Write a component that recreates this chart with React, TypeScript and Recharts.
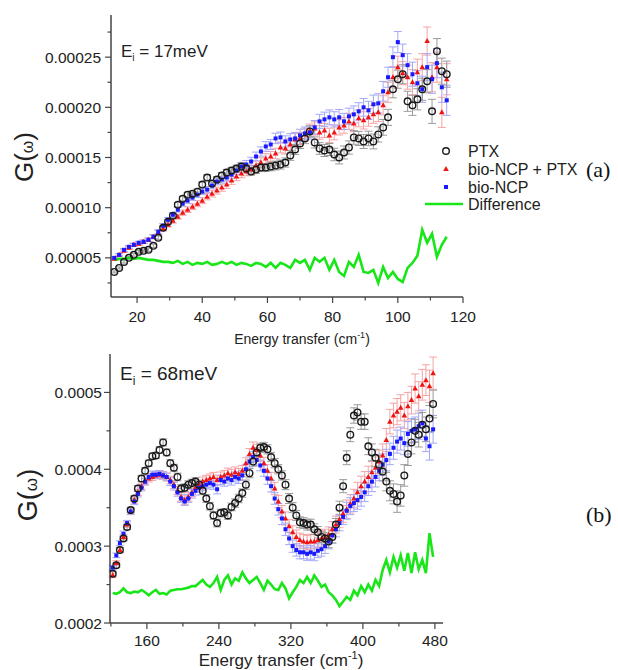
import { ComposedChart, Scatter, Line, XAxis, YAxis, ErrorBar } from "recharts";

// ---- panel (a), Ei = 17 meV, G(w) in units of 1e-5 ----
const energyA = [
  13, 14.5, 16, 17.5, 19, 20.5, 22, 23.5, 25, 26.5,
  28, 29.5, 31, 32.5, 34, 35.5, 37, 38.5, 40, 41.5,
  43, 44.5, 46, 47.5, 49, 50.5, 52, 53.5, 55, 56.5,
  58, 59.5, 61, 62.5, 64, 65.5, 67, 68.5, 70, 71.5,
  73, 74.5, 76, 77.5, 79, 80.5, 82, 83.5, 85, 86.5,
  88, 89.5, 91, 92.5, 94, 95.5, 97, 98.5, 100, 101.5,
  103, 104.5, 106, 107.5, 109, 110.5, 112, 113.5, 115,
];
const ptxA = [
  3.6, 4.0, 4.6, 5.0, 5.3, 5.6, 5.7, 5.8, 6.2, 7.0,
  8.0, 8.6, 9.2, 10.3, 10.9, 11.3, 11.4, 11.6, 12.3, 13.0,
  12.4, 12.8, 13.2, 13.5, 13.7, 13.9, 14.1, 13.9, 13.6, 13.8,
  14.0, 14.0, 14.1, 14.2, 14.3, 14.5, 15.2, 15.8, 16.4, 16.9,
  17.6, 16.5, 15.9, 15.7, 15.8, 15.3, 15.0, 15.5, 16.0, 17.0,
  16.9, 16.6, 16.9, 16.6, 17.3, 18.0, 19.0, 21.8, 22.8, 23.3,
  20.6, 20.2, 20.8, 21.8, 22.6, 19.6, 25.6, 23.6, 23.3,
];
const ptxErrA = [
  0.1, 0.1, 0.12, 0.12, 0.14, 0.14, 0.15, 0.15, 0.16, 0.18,
  0.18, 0.2, 0.2, 0.22, 0.22, 0.24, 0.24, 0.25, 0.26, 0.28,
  0.28, 0.3, 0.3, 0.32, 0.32, 0.34, 0.34, 0.36, 0.36, 0.38,
  0.4, 0.4, 0.42, 0.44, 0.45, 0.46, 0.48, 0.5, 0.5, 0.52,
  0.55, 0.55, 0.58, 0.6, 0.6, 0.62, 0.64, 0.65, 0.66, 0.68,
  0.7, 0.7, 0.72, 0.74, 0.76, 0.78, 0.8, 0.85, 0.9, 0.95,
  1.0, 1.0, 1.05, 1.1, 1.15, 1.2, 1.25, 1.3, 1.3,
];
const mixA = [
  4.9, 5.3, 5.7, 6.0, 6.3, 6.4, 6.6, 6.8, 7.1, 7.5,
  7.9, 8.3, 8.7, 9.1, 9.5, 9.8, 10.1, 10.4, 10.7, 11.1,
  11.4, 11.7, 12.0, 12.3, 12.7, 13.1, 13.4, 13.6, 13.8, 14.2,
  14.5, 14.9, 15.1, 15.4, 16.0, 15.9, 16.3, 16.8, 16.9, 17.3,
  17.7, 17.9, 17.5, 17.7, 17.2, 17.5, 18.0, 18.2, 18.6, 18.4,
  18.9, 18.7, 19.0, 19.3, 19.5, 20.2, 21.5, 23.0, 24.0, 23.4,
  23.0, 22.5, 23.5, 24.0, 26.6, 23.0, 24.0, 19.5, 22.8,
];
const mixErrA = [
  0.12, 0.12, 0.14, 0.14, 0.16, 0.16, 0.18, 0.18, 0.2, 0.2,
  0.22, 0.22, 0.24, 0.24, 0.26, 0.28, 0.28, 0.3, 0.3, 0.32,
  0.34, 0.34, 0.36, 0.38, 0.38, 0.4, 0.42, 0.42, 0.44, 0.46,
  0.48, 0.48, 0.5, 0.52, 0.54, 0.56, 0.58, 0.6, 0.6, 0.62,
  0.64, 0.66, 0.68, 0.7, 0.72, 0.74, 0.76, 0.78, 0.8, 0.82,
  0.84, 0.86, 0.88, 0.9, 0.92, 0.95, 1.0, 1.05, 1.1, 1.15,
  1.2, 1.25, 1.3, 1.35, 1.4, 1.45, 1.5, 1.5, 1.55,
];
const ncpA = [
  5.0, 5.3, 5.8, 6.1, 6.3, 6.5, 6.6, 6.8, 7.1, 7.6,
  8.2, 8.8, 9.3, 9.8, 10.4, 10.7, 11.0, 11.3, 11.6, 11.8,
  12.2, 12.6, 12.8, 13.0, 13.3, 13.7, 14.1, 14.3, 14.6, 15.1,
  15.6, 16.1, 16.3, 16.9, 17.0, 16.6, 16.8, 16.9, 17.2, 17.4,
  17.5, 18.0, 18.6, 18.8, 19.0, 18.8, 19.0, 18.6, 19.1, 19.3,
  19.6, 20.0, 19.7, 20.3, 20.4, 21.6, 23.0, 25.0, 26.5, 25.2,
  24.2, 23.3, 22.4, 21.8, 24.0, 22.8, 24.4, 22.0, 20.7,
];
const ncpErrA = [
  0.12, 0.12, 0.14, 0.14, 0.15, 0.16, 0.17, 0.18, 0.19, 0.2,
  0.21, 0.22, 0.23, 0.24, 0.25, 0.26, 0.27, 0.28, 0.3, 0.31,
  0.32, 0.33, 0.34, 0.35, 0.36, 0.38, 0.4, 0.41, 0.42, 0.44,
  0.46, 0.48, 0.5, 0.52, 0.54, 0.56, 0.58, 0.6, 0.62, 0.64,
  0.66, 0.68, 0.7, 0.72, 0.74, 0.76, 0.78, 0.8, 0.82, 0.84,
  0.86, 0.88, 0.9, 0.92, 0.95, 0.98, 1.0, 1.02, 1.05, 1.1,
  1.15, 1.2, 1.25, 1.3, 1.35, 1.4, 1.45, 1.5, 1.5,
];
const diffA = [
  4.8, 4.9, 4.9, 5.0, 4.9, 5.0, 4.9, 4.8, 4.8, 4.7,
  4.6, 4.6, 4.5, 4.7, 4.4, 4.6, 4.3, 4.5, 4.4, 4.6,
  4.3, 4.4, 4.6, 4.4, 4.6, 4.3, 4.5, 4.4, 4.2, 4.5,
  4.4, 4.1, 4.5, 4.0, 4.5, 4.3, 4.0, 4.8, 4.5, 4.8,
  3.8, 5.0, 4.6, 5.0, 3.8, 4.8, 3.6, 3.2, 4.6, 4.1,
  5.3, 3.6, 3.5, 3.8, 2.5, 4.1, 3.0, 3.6, 2.9, 2.6,
  4.0, 4.5, 5.2, 7.8, 6.5, 7.4, 5.1, 6.3, 7.1,
];

// ---- panel (b), Ei = 68 meV, G(w) in units of 1e-4 ----
const energyB = [
  122, 126, 130, 134, 138, 142, 146, 150, 154, 158,
  162, 166, 170, 174, 178, 182, 186, 190, 194, 198,
  202, 206, 210, 214, 218, 222, 226, 230, 234, 238,
  242, 246, 250, 254, 258, 262, 266, 270, 274, 278,
  282, 286, 290, 294, 298, 302, 306, 310, 314, 318,
  322, 326, 330, 334, 338, 342, 346, 350, 354, 358,
  362, 366, 370, 374, 378, 382, 386, 390, 394, 398,
  402, 406, 410, 414, 418, 422, 426, 430, 434, 438,
  442, 446, 450, 454, 458, 462, 466, 470, 474, 478,
];
const ptxB = [
  2.64, 2.75, 2.95, 3.1, 3.25, 3.47, 3.62, 3.75, 3.88, 3.98,
  4.08, 4.17, 4.18, 4.25, 4.35, 4.22, 4.08, 4.02, 3.9, 3.75,
  3.76, 3.8, 3.82, 3.84, 3.8, 3.72, 3.62, 3.52, 3.4, 3.3,
  3.43, 3.44, 3.4, 3.51, 3.56, 3.62, 3.69, 3.8, 3.95, 4.1,
  4.22, 4.28, 4.29, 4.26, 4.16, 4.08, 4.0, 3.92, 3.8, 3.62,
  3.5, 3.4, 3.31, 3.3, 3.28, 3.28, 3.22, 3.18, 3.12, 3.1,
  3.06, 3.12, 3.28, 3.5, 3.78, 4.15, 4.45, 4.7, 4.74, 4.62,
  4.62, 4.3, 4.22, 4.15, 4.06, 3.97, 3.84, 3.72, 3.68, 3.58,
  3.66, 3.92, 4.2, 4.35, 4.5, 4.45, 4.58, 4.52, 4.66, 4.85,
];
const ptxErrB = [
  0.03, 0.03, 0.03, 0.03, 0.035, 0.035, 0.035, 0.04, 0.04, 0.04,
  0.04, 0.04, 0.04, 0.045, 0.045, 0.045, 0.045, 0.045, 0.05, 0.05,
  0.05, 0.05, 0.05, 0.05, 0.05, 0.05, 0.05, 0.05, 0.05, 0.05,
  0.05, 0.05, 0.05, 0.05, 0.055, 0.055, 0.055, 0.06, 0.06, 0.06,
  0.06, 0.06, 0.06, 0.06, 0.06, 0.06, 0.06, 0.06, 0.065, 0.065,
  0.065, 0.065, 0.07, 0.07, 0.07, 0.07, 0.07, 0.075, 0.075, 0.075,
  0.08, 0.08, 0.08, 0.085, 0.085, 0.09, 0.09, 0.1, 0.1, 0.1,
  0.1, 0.11, 0.11, 0.11, 0.12, 0.12, 0.12, 0.13, 0.13, 0.14,
  0.14, 0.14, 0.15, 0.15, 0.15, 0.16, 0.16, 0.16, 0.17, 0.18,
];
const mixB = [
  2.62, 2.78, 2.95, 3.12, 3.28, 3.45, 3.6, 3.7, 3.78, 3.84,
  3.88, 3.9, 3.92, 3.93, 3.92, 3.9, 3.86, 3.8, 3.72, 3.64,
  3.6, 3.64, 3.7, 3.76, 3.8, 3.84, 3.86, 3.88, 3.9, 3.86,
  3.9, 3.92, 3.95, 3.93, 3.96, 3.94, 3.98, 4.08, 4.2, 4.28,
  4.25, 4.18, 4.08, 3.98, 3.88, 3.75, 3.58, 3.45, 3.36, 3.26,
  3.18, 3.12, 3.08, 3.06, 3.05, 3.06, 3.06, 3.08, 3.1, 3.12,
  3.15, 3.22, 3.28, 3.35, 3.42, 3.48, 3.55, 3.62, 3.7, 3.78,
  3.84, 3.9, 3.96, 4.02, 4.1, 4.18, 4.38, 4.62, 4.7, 4.75,
  4.8, 4.7, 4.82, 4.9, 5.05, 4.95, 5.1, 5.16, 5.08, 5.25,
];
const mixErrB = [
  0.03, 0.03, 0.035, 0.035, 0.035, 0.04, 0.04, 0.04, 0.04, 0.045,
  0.045, 0.045, 0.045, 0.05, 0.05, 0.05, 0.05, 0.05, 0.05, 0.055,
  0.055, 0.055, 0.055, 0.06, 0.06, 0.06, 0.06, 0.06, 0.06, 0.065,
  0.065, 0.065, 0.065, 0.07, 0.07, 0.07, 0.07, 0.07, 0.07, 0.075,
  0.075, 0.075, 0.075, 0.08, 0.08, 0.08, 0.08, 0.08, 0.085, 0.085,
  0.085, 0.09, 0.09, 0.09, 0.09, 0.095, 0.095, 0.1, 0.1, 0.1,
  0.1, 0.1, 0.11, 0.11, 0.11, 0.12, 0.12, 0.12, 0.13, 0.13,
  0.13, 0.14, 0.14, 0.14, 0.15, 0.15, 0.15, 0.16, 0.16, 0.17,
  0.17, 0.17, 0.18, 0.18, 0.19, 0.19, 0.2, 0.2, 0.21, 0.21,
];
const ncpB = [
  2.72, 2.88, 3.04, 3.16, 3.3, 3.45, 3.58, 3.68, 3.76, 3.84,
  3.9, 3.93, 3.93, 3.94, 3.92, 3.9, 3.84, 3.78, 3.7, 3.62,
  3.58, 3.62, 3.68, 3.72, 3.76, 3.78, 3.8, 3.82, 3.8, 3.74,
  3.86, 3.84, 3.88, 3.86, 3.9, 3.88, 3.92, 4.0, 4.1, 4.16,
  4.12, 4.05, 3.98, 3.88, 3.78, 3.62, 3.48, 3.36, 3.22, 3.1,
  3.0, 2.95, 2.92, 2.92, 2.9, 2.92, 2.9, 2.94, 2.96, 3.0,
  3.06, 3.14, 3.22, 3.3, 3.38, 3.46, 3.52, 3.56, 3.6, 3.64,
  3.7, 3.78, 3.84, 3.9, 3.98, 4.06, 4.12, 4.2, 4.28, 4.36,
  4.4, 4.34, 4.46, 4.5, 4.52, 4.56, 4.6, 4.4, 4.3, 4.52,
];
const ncpErrB = [
  0.03, 0.03, 0.03, 0.035, 0.035, 0.035, 0.04, 0.04, 0.04, 0.04,
  0.04, 0.045, 0.045, 0.045, 0.045, 0.05, 0.05, 0.05, 0.05, 0.05,
  0.05, 0.05, 0.055, 0.055, 0.055, 0.055, 0.055, 0.06, 0.06, 0.06,
  0.06, 0.06, 0.06, 0.065, 0.065, 0.065, 0.065, 0.065, 0.07, 0.07,
  0.07, 0.07, 0.07, 0.075, 0.075, 0.075, 0.075, 0.08, 0.08, 0.08,
  0.08, 0.08, 0.085, 0.085, 0.085, 0.09, 0.09, 0.09, 0.09, 0.095,
  0.095, 0.1, 0.1, 0.1, 0.1, 0.11, 0.11, 0.11, 0.12, 0.12,
  0.12, 0.12, 0.13, 0.13, 0.13, 0.14, 0.14, 0.14, 0.15, 0.15,
  0.15, 0.15, 0.16, 0.16, 0.16, 0.17, 0.17, 0.17, 0.18, 0.18,
];
const diffB = [
  2.39, 2.38, 2.4, 2.45, 2.4, 2.39, 2.41, 2.4, 2.43, 2.4,
  2.36, 2.4, 2.43, 2.38, 2.39, 2.37, 2.42, 2.43, 2.44, 2.44,
  2.45, 2.46, 2.48, 2.48, 2.52, 2.56, 2.5, 2.47, 2.52, 2.6,
  2.43, 2.56, 2.62, 2.5, 2.58, 2.55, 2.66, 2.58, 2.52, 2.56,
  2.6, 2.52, 2.43, 2.55, 2.5, 2.44, 2.43, 2.52, 2.45, 2.32,
  2.4, 2.47, 2.56, 2.52, 2.6, 2.52, 2.62, 2.55, 2.47, 2.5,
  2.4, 2.36, 2.3, 2.22, 2.28, 2.34, 2.3, 2.42, 2.36, 2.48,
  2.4, 2.5, 2.42, 2.56, 2.48, 2.69, 2.82, 2.66, 2.86, 2.72,
  2.88, 2.68, 2.91, 2.65, 2.92, 2.7, 2.82, 2.65, 3.17, 2.86,
];

// axis ticks
const xMajorA = [20, 40, 60, 80, 100, 120];
const xMinorA = [30, 50, 70, 90, 110];
const yMajorA = [0.00005, 0.0001, 0.00015, 0.0002, 0.00025];
const yMinorA = [0.000025, 0.000075, 0.000125, 0.000175, 0.000225, 0.000275];
const xMajorB = [160, 240, 320, 400, 480];
const xMinorB = [120, 200, 280, 360, 440];
const yMajorB = [0.0002, 0.0003, 0.0004, 0.0005];
const yMinorB = [0.00025, 0.00035, 0.00045];

const AXIS = "#444";
const INK = "#222";
const FONT = "'Liberation Sans', Arial, sans-serif";

const rows = (xs: number[], ys: number[], errs: number[] | null, scale: number) =>
  xs.map((x, i) => ({ x, y: ys[i] * scale, err: errs ? errs[i] * scale : 0 }));

const isIn = (list: number[], v: number) => list.some((m) => Math.abs(m - v) < 1e-9);

const yTick = (majors: number[], digits: number, gap: number) => (p: any) => {
  const v = p.payload.value;
  const major = isIn(majors, v);
  return (
    <g>
      <line x1={p.x - (major ? 6 : 3.5)} x2={p.x} y1={p.y} y2={p.y} stroke={AXIS} strokeWidth={1.2} />
      {major && (
        <text x={p.x - gap} y={p.y} textAnchor="end" dominantBaseline="central" fontSize={15.5} fill={INK} fontFamily={FONT}>
          {v.toFixed(digits)}
        </text>
      )}
    </g>
  );
};

const xTick = (majors: number[], offset: number) => (p: any) => {
  const v = p.payload.value;
  const major = isIn(majors, v);
  return (
    <g>
      <line x1={p.x} x2={p.x} y1={p.y} y2={p.y + (major ? 6 : 3.5)} stroke={AXIS} strokeWidth={1.2} />
      {major && (
        <text x={p.x} y={p.y + offset} textAnchor="middle" dominantBaseline="central" fontSize={15.5} fill={INK} fontFamily={FONT}>
          {v}
        </text>
      )}
    </g>
  );
};

const Circle = (p: any) => <circle cx={p.cx} cy={p.cy} r={3.3} fill="none" stroke="#1a1a1a" strokeWidth={1.4} />;
const Tri = (p: any) => (
  <polygon points={`${p.cx},${p.cy - 3} ${p.cx - 2.8},${p.cy + 2} ${p.cx + 2.8},${p.cy + 2}`} fill="#f01414" />
);
const Sq = (p: any) => <rect x={p.cx - 2} y={p.cy - 2} width={4} height={4} fill="#1a1aff" />;

const Panel = ({
  energy, ptx, ptxErr, mix, mixErr, ncp, ncpErr, diff, scale, height, margin, yWidth,
  xDomain, yDomain, xMajor, xMinor, yMajor, yMinor, digits, yGap, xOffset, xHeight,
}: any) => (
  <ComposedChart width={618} height={height} margin={margin}>
    <XAxis
      type="number"
      dataKey="x"
      domain={xDomain}
      allowDataOverflow
      ticks={[...xMinor, ...xMajor].sort((a, b) => a - b)}
      interval={0}
      tickSize={0}
      tickMargin={0}
      tick={xTick(xMajor, xOffset)}
      height={xHeight}
      axisLine={{ stroke: AXIS, strokeWidth: 1.5 }}
    />
    <YAxis
      type="number"
      domain={yDomain}
      allowDataOverflow
      ticks={[...yMinor, ...yMajor].sort((a, b) => a - b)}
      interval={0}
      tickSize={0}
      tickMargin={0}
      tick={yTick(yMajor, digits, yGap)}
      width={yWidth}
      axisLine={{ stroke: AXIS, strokeWidth: 1.5 }}
    />
    <Scatter data={rows(energy, mix, mixErr, scale)} dataKey="y" shape={Tri} isAnimationActive={false}>
      <ErrorBar dataKey="err" direction="y" width={4} stroke="#f7a3a3" strokeWidth={1} />
    </Scatter>
    <Scatter data={rows(energy, ncp, ncpErr, scale)} dataKey="y" shape={Sq} isAnimationActive={false}>
      <ErrorBar dataKey="err" direction="y" width={4} stroke="#a3a8f7" strokeWidth={1} />
    </Scatter>
    <Scatter data={rows(energy, ptx, ptxErr, scale)} dataKey="y" shape={Circle} isAnimationActive={false}>
      <ErrorBar dataKey="err" direction="y" width={4} stroke="#9a9a9a" strokeWidth={1} />
    </Scatter>
    <Line
      data={rows(energy, diff, null, scale)}
      dataKey="y"
      type="linear"
      stroke="#19e619"
      strokeWidth={2.6}
      dot={false}
      isAnimationActive={false}
    />
  </ComposedChart>
);

export default function App() {
  return (
    <div style={{ position: "absolute", left: 0, top: 0, width: 618, height: 670, background: "#fff", fontFamily: FONT }}>
      <div style={{ position: "absolute", left: 0, top: 0 }}>
        <Panel
          energy={energyA} ptx={ptxA} ptxErr={ptxErrA} mix={mixA} mixErr={mixErrA}
          ncp={ncpA} ncpErr={ncpErrA} diff={diffA} scale={1e-5}
          height={330} margin={{ top: 15, right: 155, bottom: 0, left: 0 }} yWidth={111} xHeight={33}
          xDomain={[12, 120]} yDomain={[0.000011, 0.000292]}
          xMajor={xMajorA} xMinor={xMinorA} yMajor={yMajorA} yMinor={yMinorA}
          digits={5} yGap={10} xOffset={19}
        />
      </div>
      <div style={{ position: "absolute", left: 0, top: 330 }}>
        <Panel
          energy={energyB} ptx={ptxB} ptxErr={ptxErrB} mix={mixB} mixErr={mixErrB}
          ncp={ncpB} ncpErr={ncpErrB} diff={diffB} scale={1e-4}
          height={340} margin={{ top: 24, right: 175, bottom: 0, left: 0 }} yWidth={110} xHeight={47}
          xDomain={[119, 489]} yDomain={[0.0002, 0.00055]}
          xMajor={xMajorB} xMinor={xMinorB} yMajor={yMajorB} yMinor={yMinorB}
          digits={4} yGap={8} xOffset={17}
        />
      </div>
      <svg width={618} height={670} style={{ position: "absolute", left: 0, top: 0, pointerEvents: "none" }} fontFamily={FONT}>
        {/* axis titles */}
        <text transform="translate(33,157) rotate(-90)" textAnchor="middle" fontSize={26} fill={INK}>
          G(<tspan fontSize={16}>ω</tspan>)
        </text>
        <text transform="translate(37,495) rotate(-90)" textAnchor="middle" fontSize={27} fill={INK}>
          G(<tspan fontSize={17}>ω</tspan>)
        </text>
        <text x={302} y={344} textAnchor="middle" fontSize={14} fill={INK}>
          Energy transfer (cm<tspan dy={-6} fontSize={9}>-1</tspan><tspan dy={6}>)</tspan>
        </text>
        <text x={281} y={666} textAnchor="middle" fontSize={17} fill={INK}>
          Energy transfer (cm<tspan dy={-7} fontSize={11}>-1</tspan><tspan dy={7}>)</tspan>
        </text>
        {/* incident energies */}
        <text x={121} y={57} fontSize={17} fill={INK}>
          E<tspan dy={4} fontSize={10}>i</tspan><tspan dy={-4}> = 17meV</tspan>
        </text>
        <text x={120} y={380} fontSize={19} fill={INK}>
          E<tspan dy={5} fontSize={12}>i</tspan><tspan dy={-5}> = 68meV</tspan>
        </text>
        {/* legend */}
        <circle cx={446} cy={151} r={3.3} fill="none" stroke="#1a1a1a" strokeWidth={1.4} />
        <text x={468} y={157} fontSize={16} fill={INK}>PTX</text>
        <polygon points="446,166 443.2,171 448.8,171" fill="#f01414" />
        <text x={468} y={175} fontSize={16} fill={INK}>bio-NCP + PTX</text>
        <rect x={444} y={185} width={4} height={4} fill="#1a1aff" />
        <text x={468} y={193} fontSize={16} fill={INK}>bio-NCP</text>
        <line x1={425} x2={463} y1={204} y2={204} stroke="#19e619" strokeWidth={2.6} />
        <text x={468} y={210} fontSize={16} fill={INK}>Difference</text>
        {/* panel tags */}
        <text x={586} y={177} fontSize={22} fill="#111" fontFamily="'Liberation Serif', 'Times New Roman', serif">(a)</text>
        <text x={586} y={522} fontSize={22} fill="#111" fontFamily="'Liberation Serif', 'Times New Roman', serif">(b)</text>
      </svg>
    </div>
  );
}
